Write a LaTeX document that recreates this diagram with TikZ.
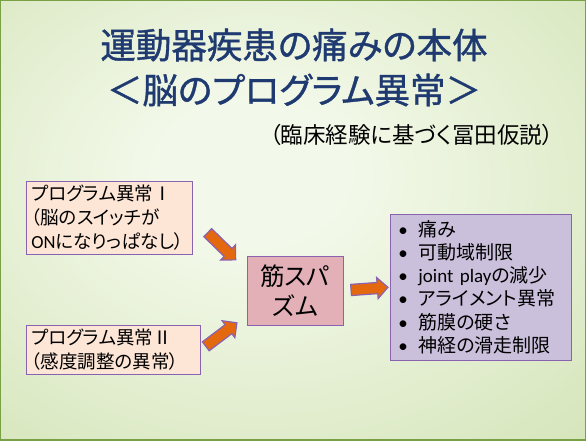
\documentclass[tikz,border=0pt]{standalone}
\usepackage{fontspec}
\setmainfont[RawFeature=+palt]{Noto Sans CJK JP}
\newfontfamily\titlefont[RawFeature=+palt,FakeBold=1]{Noto Sans CJK JP}
\newfontfamily\latinfont{Carlito}
\usepackage{tikz}
\usetikzlibrary{shapes.arrows,positioning,calc}
\definecolor{titleblue}{HTML}{1F3A70}
\definecolor{boxline}{HTML}{8A63B0}
\definecolor{peach}{HTML}{FDE6D6}
\definecolor{rosy}{HTML}{E2B0B6}
\definecolor{lilac}{HTML}{CBC0DC}
\definecolor{arroworange}{HTML}{E4680E}
\definecolor{glowin}{HTML}{F3F9EA}
\definecolor{glowout}{HTML}{C2D89B}
\definecolor{slideedge}{HTML}{79A044}
\pgfdeclareradialshading{slideglow}{\pgfpoint{-4bp}{6bp}}{%
  color(0bp)=(glowin); color(8bp)=(glowin); color(60bp)=(glowout); color(80bp)=(glowout)}
\newcommand{\itm}[1]{\makebox[20pt][l]{\latinfont\textbullet}#1}

\begin{document}
\begin{tikzpicture}[x=1pt,y=-1pt,
  srcbox/.style={draw=boxline,fill=peach,line width=0.8pt,inner xsep=5pt,inner ysep=4pt,
                 align=left,font=\fontsize{18.5}{24}\selectfont},
  fat/.style={single arrow,draw=boxline,fill=arroworange,line width=1.2pt,
              minimum height=39pt,single arrow head extend=5pt,
              inner xsep=0pt,inner ysep=5pt,sloped}
]
\useasboundingbox (0,0) rectangle (586,440);
\shade[shading=slideglow] (0,0) rectangle (586,440);
\draw[slideedge,line width=2pt] (0,0) rectangle (586,440);

% title
\node[font=\titlefont\fontsize{35.5}{45}\selectfont,text=titleblue,align=center] (title) at (294,67.5)
  {運動器疾患の痛みの本体\\＜脳のプログラム異常＞};
\node[font=\fontsize{22.5}{26}\selectfont,anchor=east] (hypo) at (557,135) {（臨床経験に基づく冨田仮説）};

% causes
\node[srcbox,text width=156pt,anchor=north west] (prog1) at (26,181)
  {プログラム異常Ⅰ\\（脳のスイッチが\\{\latinfont ON}になりっぱなし）};
\node[srcbox,text width=164pt,anchor=north west] (prog2) at (26,325)
  {プログラム異常Ⅱ\\（感度調整の異常）};

% spasm and its effects
\node[draw=boxline,fill=rosy,line width=0.8pt,minimum width=96pt,minimum height=69pt,
      align=center,font=\fontsize{24.5}{30}\selectfont] (spasm) at (295,290.5) {筋スパ\\ズム};
\node[draw=boxline,fill=lilac,line width=0.8pt,anchor=north west,text width=165pt,
      inner xsep=8pt,inner ysep=6pt,align=left,font=\fontsize{19}{23.2}\selectfont] (effects) at (390,214)
  {\itm{痛み}\\\itm{可動域制限}\\\itm{{\latinfont joint play}の減少}\\\itm{アライメント異常}\\\itm{筋膜の硬さ}\\\itm{神経の滑走制限}};

\path (prog1.east) -- node[fat] (arrA) {} ([yshift=20pt]spasm.west);
\path (prog2.east) -- node[fat,pos=0.4] (arrB) {} ([yshift=-25pt]spasm.west);
\path (spasm.east) -- node[fat,minimum height=37pt] (arrC) {} (effects.west);
\end{tikzpicture}
\end{document}
